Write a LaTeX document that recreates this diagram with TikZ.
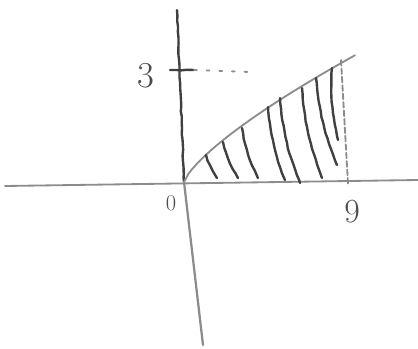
\documentclass[tikz,border=0pt]{standalone}
\usetikzlibrary{decorations.pathmorphing}
\begin{document}
\begin{tikzpicture}[x=0.025cm,y=-0.025cm,
		declare function={f(\t)=182-2.68*\t^0.75;},
		pencil/.style={draw=black!75,line width=1.7pt,line cap=round,
			decorate,decoration={random steps,segment length=4pt,amplitude=0.3pt}},
		faint/.style={draw=black!45,line width=1.3pt,line cap=round},
		lbl/.style={text=black!70,inner sep=0pt}]
	\useasboundingbox (0,0) rectangle (418,348);
	\path (184,182) coordinate (O)
	(5,186) coordinate (xl)
	(418,180) coordinate (xr)
	(177,10) coordinate (yt)
	(203,345) coordinate (yb)
	(170,70) coordinate (tl)
	(194,70) coordinate (tr)
	(250,72) coordinate (te)
	(341,60) coordinate (Nt)
	(348,184) coordinate (Nb);
	\draw[faint] (xl)--(xr);
	\draw[pencil] (yt)--(O);
	\draw[faint,line width=1.6pt] (O)--(yb);
	\draw[pencil] (tl)--(tr);
	\draw[faint,dash pattern=on 2pt off 7pt] (tr)--(te);
	\draw[faint] plot[domain=0:171,samples=40] ({184+\x},{f(\x)});
	\draw[faint,dash pattern=on 4pt off 2pt] (Nt)--(Nb);
	\foreach \a/\b/\c/\d in {206/155/217/178,223/142/238/178,242/128/258/178,
		268/107/285/180,280/98/300/183,302/88/322/178,316/78/337/165,332/68/338/140}
	\draw[pencil] (\a,\b) to[bend right=8] (\c,\d);
	\node[lbl,font=\fontsize{26}{28}\selectfont] (three) at (146,76) {3};
	\node[lbl,font=\fontsize{16}{18}\selectfont] (zero) at (171,203) {0};
	\node[lbl,font=\fontsize{24}{26}\selectfont] (nine) at (352,212) {9};
\end{tikzpicture}
\end{document}
